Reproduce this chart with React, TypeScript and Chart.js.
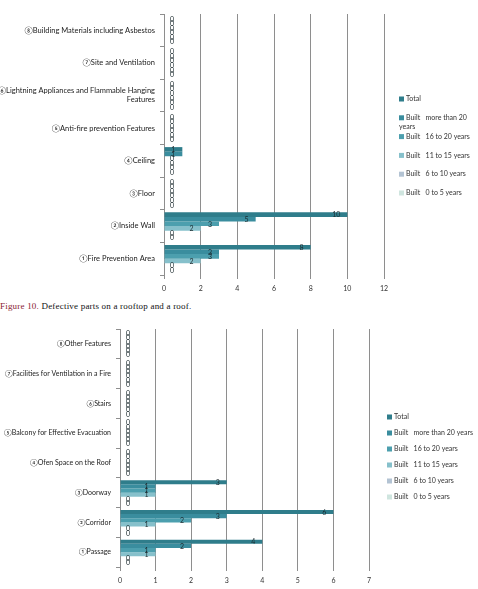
import React, { useEffect, useRef } from "react";
import { Chart, registerables } from "chart.js";

Chart.register(...registerables);

// ---- Series (legend) ----
const seriesLabels = [
  "Total",
  "Built   more than 20 years",
  "Built   16 to 20 years",
  "Built   11 to 15 years",
  "Built   6 to 10 years",
  "Built   0 to 5 years",
];
const seriesColors = ["#2f7d8b", "#3a8d9e", "#4c9fae", "#86c0cb", "#b3c3d3", "#cfe5df"];

// ---- Chart 1: rooftop (top to bottom) ----
const roofCategories: (string | string[])[] = [
  "⑧Building Materials including Asbestos",
  "⑦Site and Ventilation",
  ["⑥Lightning Appliances and Flammable Hanging", "Features"],
  "⑤Anti-fire prevention Features",
  "④Ceiling",
  "③Floor",
  "②Inside Wall",
  "①Fire Prevention Area",
];
const roofTotal = [0, 0, 0, 0, 1, 0, 10, 8];
const roofOver20 = [0, 0, 0, 0, 1, 0, 5, 3];
const roof16to20 = [0, 0, 0, 0, 0, 0, 3, 3];
const roof11to15 = [0, 0, 0, 0, 0, 0, 2, 2];
const roof6to10 = [0, 0, 0, 0, 0, 0, 0, 0];
const roof0to5 = [0, 0, 0, 0, 0, 0, 0, 0];
const roofMax = 12;
const roofStep = 2;

// ---- Chart 2: evacuation (top to bottom) ----
const evacCategories = [
  "⑧Other Features",
  "⑦Facilities for Ventilation in a Fire",
  "⑥Stairs",
  "⑤Balcony for Effective Evacuation",
  "④Ofen Space on the Roof",
  "③Doorway",
  "②Corridor",
  "①Passage",
];
const evacTotal = [0, 0, 0, 0, 0, 3, 6, 4];
const evacOver20 = [0, 0, 0, 0, 0, 1, 3, 2];
const evac16to20 = [0, 0, 0, 0, 0, 1, 2, 1];
const evac11to15 = [0, 0, 0, 0, 0, 1, 1, 1];
const evac6to10 = [0, 0, 0, 0, 0, 0, 0, 0];
const evac0to5 = [0, 0, 0, 0, 0, 0, 0, 0];
const evacMax = 7;
const evacStep = 1;

const FONT = "Lato, 'Noto Sans', 'DejaVu Sans', sans-serif";

const valueLabels = {
  id: "valueLabels",
  afterDatasetsDraw(chart: any) {
    const ctx = chart.ctx;
    ctx.save();
    ctx.font = `7px ${FONT}`;
    ctx.fillStyle = "#1b2a2e";
    ctx.textAlign = "right";
    ctx.textBaseline = "middle";
    chart.data.datasets.forEach((ds: any, i: number) => {
      const meta = chart.getDatasetMeta(i);
      meta.data.forEach((el: any, j: number) => {
        const v = ds.data[j];
        const x = v === 0 ? el.base + 10 : el.x - 7;
        ctx.fillText(String(v), x, el.y + 0.5);
      });
    });
    ctx.restore();
  },
};

const boxLegend = {
  id: "boxLegend",
  afterDraw(chart: any, _args: any, opts: any) {
    const ctx = chart.ctx;
    ctx.save();
    ctx.font = `${opts.fontSize}px ${FONT}`;
    ctx.textBaseline = "middle";
    ctx.textAlign = "left";
    chart.data.datasets.forEach((ds: any, i: number) => {
      const y = opts.y + i * opts.step;
      ctx.fillStyle = ds.backgroundColor;
      ctx.fillRect(opts.x, y - 2.5, 5, 5);
      ctx.fillStyle = "#333";
      const text: string = ds.label;
      if (ctx.measureText(text).width > opts.maxWidth) {
        const words = text.split(" ");
        let line = "";
        let k = 0;
        for (; k < words.length; k++) {
          const test = line ? line + " " + words[k] : words[k];
          if (ctx.measureText(test).width > opts.maxWidth) break;
          line = test;
        }
        ctx.fillText(line, opts.textX, y);
        ctx.fillText(words.slice(k).join(" "), opts.x, y + 9);
      } else {
        ctx.fillText(text, opts.textX, y);
      }
    });
    ctx.restore();
  },
};

function makeConfig(
  labels: any[],
  values: number[][],
  max: number,
  step: number,
  yWidth: number,
  xHeight: number,
  padding: any,
  catFont: number,
  legend: any
) {
  return {
    type: "bar" as const,
    data: {
      labels,
      datasets: values.map((d, i) => ({
        label: seriesLabels[i],
        data: d,
        backgroundColor: seriesColors[i],
        borderWidth: 0,
        barPercentage: 1,
        categoryPercentage: 0.84,
      })),
    },
    options: {
      indexAxis: "y" as const,
      animation: false as const,
      responsive: false,
      devicePixelRatio: 1,
      layout: { padding },
      plugins: {
        legend: { display: false },
        tooltip: { enabled: false },
        boxLegend: legend,
      },
      scales: {
        x: {
          min: 0,
          max,
          ticks: {
            stepSize: step,
            font: { family: FONT, size: 7 },
            color: "#333",
            padding: 6,
          },
          grid: { color: "#8e8e8e", lineWidth: 1, tickLength: 4 },
          border: { display: false },
          afterFit(scale: any) {
            scale.height = xHeight;
          },
        },
        y: {
          ticks: {
            font: { family: FONT, size: catFont },
            color: "#222",
            padding: 5,
            autoSkip: false,
          },
          grid: { drawOnChartArea: false, color: "#8e8e8e", tickLength: 4, offset: true },
          border: { display: true, color: "#8e8e8e" },
          afterFit(scale: any) {
            scale.width = yWidth;
          },
        },
      },
    },
    plugins: [valueLabels, boxLegend],
  };
}

function BarChart(props: { config: any; width: number; height: number; top: number }) {
  const ref = useRef<HTMLCanvasElement | null>(null);
  useEffect(() => {
    if (!ref.current) return;
    const chart = new Chart(ref.current, props.config);
    return () => chart.destroy();
  }, []);
  return (
    <canvas
      ref={ref}
      width={props.width}
      height={props.height}
      style={{ position: "absolute", left: 0, top: props.top, width: props.width, height: props.height }}
    />
  );
}

export default function App() {
  const roofConfig = makeConfig(
    roofCategories,
    [roofTotal, roofOver20, roof16to20, roof11to15, roof6to10, roof0to5],
    roofMax,
    roofStep,
    164,
    25,
    { left: 0, right: 94, top: 14, bottom: 0 },
    7.5,
    { x: 399, textX: 406, y: 99, step: 18.8, fontSize: 7, maxWidth: 70 }
  );
  const evacConfig = makeConfig(
    evacCategories,
    [evacTotal, evacOver20, evac16to20, evac11to15, evac6to10, evac0to5],
    evacMax,
    evacStep,
    120,
    22,
    { left: 0, right: 109, top: 11, bottom: 0 },
    7,
    { x: 387, textX: 394, y: 99, step: 16, fontSize: 7, maxWidth: 200 }
  );
  return (
    <div style={{ position: "absolute", left: 0, top: 0, width: 478, height: 589, background: "#fff" }}>
      <BarChart config={roofConfig} width={478} height={300} top={0} />
      <div
        style={{
          position: "absolute",
          left: 0,
          top: 301,
          fontFamily: "'Liberation Serif', 'DejaVu Serif', serif",
          fontSize: 9,
          whiteSpace: "nowrap",
          color: "#111",
          letterSpacing: 0.2,
        }}
      >
        <span style={{ color: "#8a2232" }}>Figure 10.</span> Defective parts on a rooftop and a roof.
      </div>
      <BarChart config={evacConfig} width={478} height={271} top={318} />
    </div>
  );
}
